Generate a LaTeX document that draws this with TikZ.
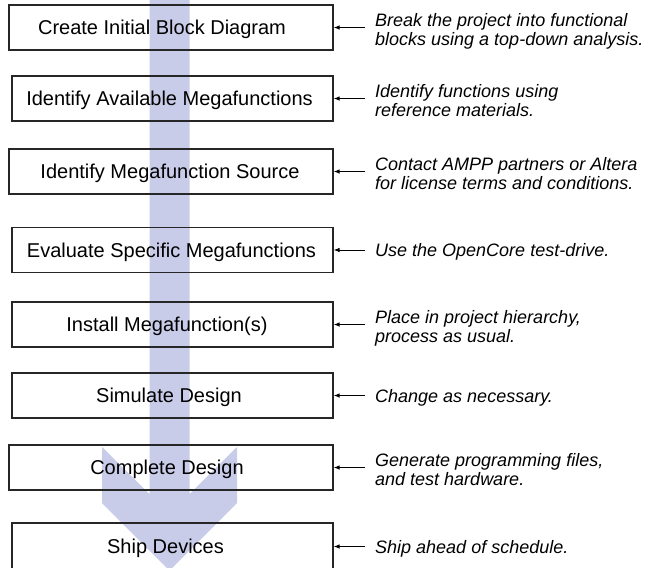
\documentclass[tikz,border=0pt]{standalone}
\usepackage{fontspec}
\setmainfont{Liberation Sans}
\usetikzlibrary{arrows.meta}
\definecolor{barblue}{RGB}{200,204,232}
\begin{document}
\begin{tikzpicture}[x=1pt,y=-1pt,
  stepbox/.style={draw=black!85,line width=1.2pt,rectangle,inner sep=0pt,minimum height=45pt},
  boxtext/.style={anchor=base,inner sep=0pt,font=\fontsize{20}{24}\selectfont},
  desc/.style={anchor=base west,inner sep=0pt,font=\fontsize{18}{20}\selectfont\itshape},
  conn/.style={line width=0.9pt,-{Latex[length=6pt,width=4.5pt]}}]
\useasboundingbox (0,0) rectangle (654,568);
% big background arrow
\fill[barblue] (149.5,0) -- (149.5,494) -- (102,447) -- (102,503) -- (169.5,570.5)
  -- (237,503) -- (237,447) -- (189.5,494) -- (189.5,0) -- cycle;
% boxes
\node[stepbox,minimum width=324pt] (b1) at (171,27.5) {};
\node[stepbox,minimum width=321pt] (b2) at (172.5,98.5) {};
\node[stepbox,minimum width=324pt] (b3) at (171,171.5) {};
\node[stepbox,minimum width=321pt] (b4) at (172.5,250) {};
\node[stepbox,minimum width=321pt] (b5) at (172.5,324.5) {};
\node[stepbox,minimum width=321pt] (b6) at (172.5,395.5) {};
\node[stepbox,minimum width=324pt] (b7) at (171,467.5) {};
\node[stepbox,minimum width=321pt,minimum height=47pt] (b8) at (172.5,546.5) {};
% box texts
\node[boxtext] (t1) at (162,34.7) {Create Initial Block Diagram};
\node[boxtext] (t2) at (169.5,105.7) {Identify Available Megafunctions};
\node[boxtext] (t3) at (170,178.7) {Identify Megafunction Source};
\node[boxtext] (t4) at (171.5,257.2) {Evaluate Specific Megafunctions};
\node[boxtext] (t5) at (167,331.7) {Install Megafunction(s)};
\node[boxtext] (t6) at (169,402.7) {Simulate Design};
\node[boxtext] (t7) at (167,474.7) {Complete Design};
\node[boxtext] (t8) at (165.5,553.7) {Ship Devices};
% descriptions
\node[desc] (d1a) at (375,26) {Break the project into functional};
\node[desc] (d1b) at (375,45) {blocks using a top-down analysis.};
\node[desc] (d2a) at (375,97) {Identify functions using};
\node[desc] (d2b) at (375,116) {reference materials.};
\node[desc] (d3a) at (375,170) {Contact AMPP partners or Altera};
\node[desc] (d3b) at (375,189) {for license terms and conditions.};
\node[desc] (d4) at (375,256.5) {Use the OpenCore test-drive.};
\node[desc] (d5a) at (375,323) {Place in project hierarchy,};
\node[desc] (d5b) at (375,342) {process as usual.};
\node[desc] (d6) at (375,402) {Change as necessary.};
\node[desc] (d7a) at (375,466) {Generate programming files,};
\node[desc] (d7b) at (375,485) {and test hardware.};
\node[desc] (d8) at (375,553) {Ship ahead of schedule.};
% connectors
\coordinate (a1) at (365,27.5);
\coordinate (a2) at (365,98.5);
\coordinate (a3) at (365,171.5);
\coordinate (a4) at (365,250);
\coordinate (a5) at (365,324.5);
\coordinate (a6) at (365,395.5);
\coordinate (a7) at (365,467.5);
\coordinate (a8) at (365,546.5);
\foreach \i in {1,...,8} \draw[conn] (a\i) -- (b\i.east);
\end{tikzpicture}
\end{document}
